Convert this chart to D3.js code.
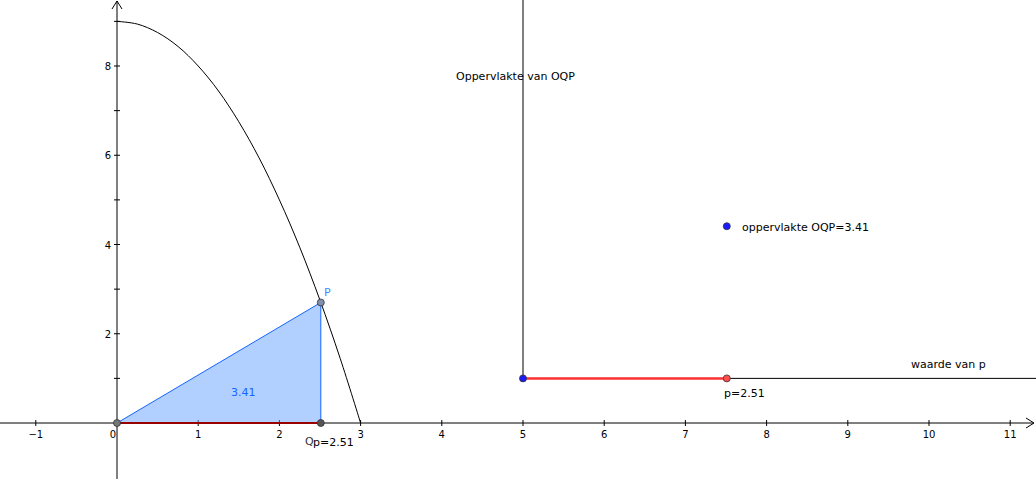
<!DOCTYPE html>
<html><head><meta charset="utf-8">
<script src="https://cdn.jsdelivr.net/npm/d3@7"></script>
<style>body{margin:0;background:#fff}text{font-family:"DejaVu Sans",sans-serif}</style>
</head><body>
<svg id="c" width="1036" height="479"></svg>
<script>
const xTicks=[-1,0,1,2,3,4,5,6,7,8,9,10,11];
const yTicks=[2,4,6,8];
const curveX=[0,0.25,0.5,0.75,1,1.25,1.5,1.75,2,2.25,2.5,2.75,3];
const curveY=[9,8.94,8.75,8.44,8,7.44,6.75,5.94,5,3.94,2.75,1.44,0];
const pVal=2.51, pY=2.70, area=3.41;
const graphOrigin=[5,1];

const svg=d3.select("#c");
const x=d3.scaleLinear().domain([0,5]).range([117,523]);
const y=d3.scaleLinear().domain([0,8]).range([423,66]);

// axes
svg.append("line").attr("x1",0).attr("x2",1034).attr("y1",y(0)).attr("y2",y(0)).attr("stroke","#000");
svg.append("path").attr("d",`M1026,${y(0)-5}L1034,${y(0)}L1026,${y(0)+5}`).attr("fill","none").attr("stroke","#000");
svg.append("line").attr("x1",x(0)).attr("x2",x(0)).attr("y1",479).attr("y2",1).attr("stroke","#000");
svg.append("path").attr("d",`M${x(0)-5},9L${x(0)},1L${x(0)+5},9`).attr("fill","none").attr("stroke","#000");
xTicks.forEach(t=>{
  svg.append("line").attr("x1",x(t)).attr("x2",x(t)).attr("y1",y(0)-3).attr("y2",y(0)+3).attr("stroke","#000");
  svg.append("text").attr("x",x(t)+(t===0?-4:0)).attr("y",y(0)+15).attr("text-anchor","middle").attr("font-size",10).text(t<0?"\u2212"+(-t):t);
});
[1,2,3,4,5,6,7,8,9].forEach(t=>svg.append("line").attr("x1",x(0)-3).attr("x2",x(0)+3).attr("y1",y(t)).attr("y2",y(t)).attr("stroke","#000"));
yTicks.forEach(t=>svg.append("text").attr("x",x(0)-6).attr("y",y(t)+4).attr("text-anchor","end").attr("font-size",10).text(t));

// triangle
svg.append("path").attr("d",`M${x(0)},${y(0)}L${x(pVal)},${y(0)}L${x(pVal)},${y(pY)}Z`)
  .attr("fill","rgba(100,160,255,0.5)").attr("stroke","#1565ff").attr("stroke-width",1);
svg.append("line").attr("x1",x(0)).attr("x2",x(pVal)).attr("y1",y(0)).attr("y2",y(0)).attr("stroke","#990000").attr("stroke-width",2);

// curve
svg.append("path").datum(curveX.map((v,i)=>[v,curveY[i]]))
  .attr("d",d3.line().x(d=>x(d[0])).y(d=>y(d[1])).curve(d3.curveCatmullRom))
  .attr("fill","none").attr("stroke","#000");

// right graph
svg.append("line").attr("x1",x(5)).attr("x2",x(5)).attr("y1",0).attr("y2",y(1)).attr("stroke","#000");
svg.append("line").attr("x1",x(5)).attr("x2",1036).attr("y1",y(1)).attr("y2",y(1)).attr("stroke","#000");
svg.append("line").attr("x1",x(5)).attr("x2",x(5+pVal)).attr("y1",y(1)).attr("y2",y(1)).attr("stroke","#ff3333").attr("stroke-width",2.5);

function pt(px,py,fill){svg.append("circle").attr("cx",px).attr("cy",py).attr("r",3.5).attr("fill",fill).attr("stroke","#333").attr("stroke-width",0.8);}
pt(x(0),y(0),"#777");pt(x(pVal),y(0),"#555");pt(x(pVal),y(pY),"#7f8fb0");
pt(x(5),y(1),"#1a1aff");pt(x(5+pVal),y(1),"#ff4d4d");pt(x(5+pVal),y(1+area),"#1a1aff");

function lab(tx,ty,s,c){svg.append("text").attr("x",tx).attr("y",ty).attr("font-size",11).attr("fill",c||"#000").text(s);}
lab(324,296,"P","#3d8bff");
lab(305,445,"Q","#333");
lab(231,396,"3.41","#1565ff");
lab(313,446,"p=2.51");
lab(724,397,"p=2.51");
lab(456,80,"Oppervlakte van OQP");
lab(911,368,"waarde van p");
lab(742,231,"oppervlakte OQP=3.41");
</script></body></html>
